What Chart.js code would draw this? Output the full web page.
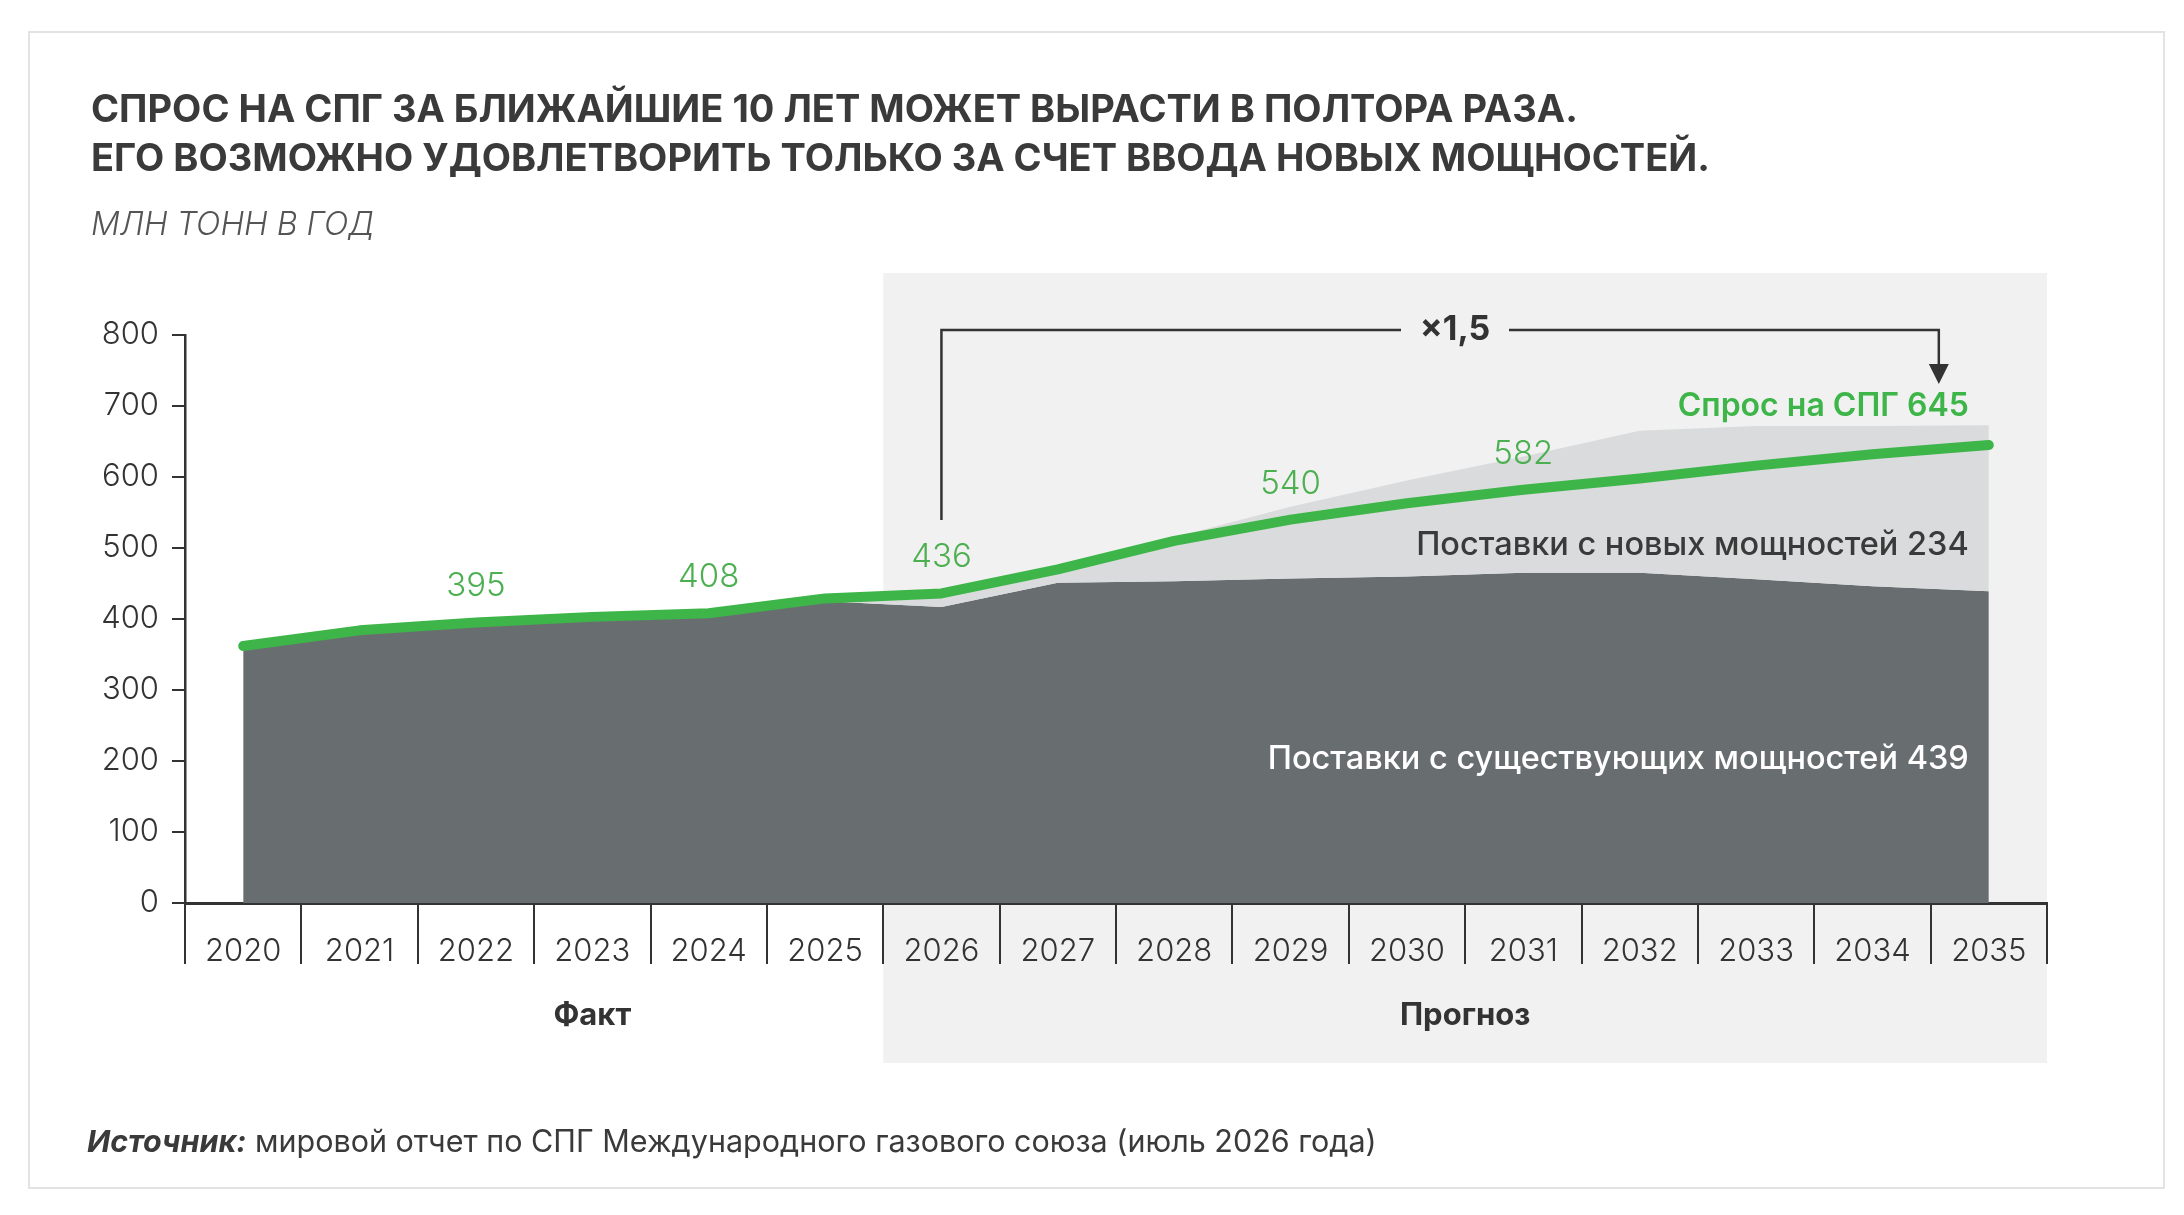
<!DOCTYPE html>
<html lang="ru">
<head>
<meta charset="utf-8">
<title>Спрос на СПГ</title>
<script src="https://cdn.jsdelivr.net/npm/chart.js@4.4.1/dist/chart.umd.min.js"></script>
<style>
  body { margin: 0; width: 2184px; height: 1215px; position: relative; background: #fff; overflow: hidden; font-family: Inter, "Noto Sans", sans-serif; color: #3a3a3a; }
  .frame { position: absolute; left: 28px; top: 31px; width: 2133px; height: 1154px; border: 2px solid #e3e3e3; }
  canvas { position: absolute; left: 0; top: 0; }
  .title { position: absolute; left: 91px; top: 84px; font-size: 38px; line-height: 49px; font-weight: 700; color: #3a3a3a; white-space: nowrap; }
  .subtitle { position: absolute; left: 91px; top: 208px; font-size: 32px; line-height: 32px; font-style: italic; font-weight: 300; color: #555; }
  .source { position: absolute; left: 87px; top: 1125px; font-size: 30.5px; line-height: 31px; color: #3a3a3a; white-space: nowrap; }
  .source b { font-style: italic; font-weight: 700; }
</style>
</head>
<body>
<div class="frame"></div>
<canvas id="lngChart" width="2184" height="1215"></canvas>
<div class="title">СПРОС НА СПГ ЗА БЛИЖАЙШИЕ 10 ЛЕТ МОЖЕТ ВЫРАСТИ В ПОЛТОРА РАЗА.<br>ЕГО ВОЗМОЖНО УДОВЛЕТВОРИТЬ ТОЛЬКО ЗА СЧЕТ ВВОДА НОВЫХ МОЩНОСТЕЙ.</div>
<div class="subtitle">МЛН ТОНН В ГОД</div>
<div class="source"><b>Источник:</b> мировой отчет по СПГ Международного газового союза (июль 2026 года)</div>
<script>
const years = ['2020', '2021', '2022', '2023', '2024', '2025', '2026', '2027', '2028', '2029', '2030', '2031', '2032', '2033', '2034', '2035'];
const demand = [362, 384, 395, 403, 408, 429, 436, 470, 510, 540, 563, 582, 598, 616, 632, 645];
const existingSupply = [360, 378, 390, 398, 403, 425, 417, 451, 453, 457, 460, 465, 465, 456, 446, 439];
const newSupply = [0, 0, 0, 0, 0, 0, 13, 15, 62, 101, 135, 164, 200, 216, 226, 234];
const labelledYears = ['2022', '2024', '2026', '2029', '2031'];
const firstForecastYear = '2026';
const growthLabel = '×1,5';

const GREEN = '#3db549';
const GREEN_TEXT = '#4caf50';
const DARK = '#686e70';
const LIGHT = '#d9dbdc';
const INK = '#333333';
const FONT = 'Inter, "Noto Sans", sans-serif';

const totalSupply = existingSupply.map((v, i) => v + newSupply[i]);
const last = years.length - 1;

const overlay = {
    id: 'overlay',
    beforeDraw(chart) {
        const { ctx, scales: { x } } = chart;
        const i0 = years.indexOf(firstForecastYear);
        const left = (x.getPixelForValue(i0 - 1) + x.getPixelForValue(i0)) / 2;
        ctx.save();
        ctx.fillStyle = '#f1f1f1';
        ctx.fillRect(left, 273, chart.chartArea.right - left, 790);
        ctx.restore();
    },
    afterDraw(chart) {
        const { ctx, chartArea, scales: { x, y } } = chart;
        ctx.save();

        // separators under the x axis
        ctx.strokeStyle = INK;
        ctx.lineWidth = 2;
        const step = x.getPixelForValue(1) - x.getPixelForValue(0);
        for (let i = 0; i <= years.length; i++) {
            const px = Math.round(x.getPixelForValue(0) - step / 2 + i * step);
            ctx.beginPath();
            ctx.moveTo(px, chartArea.bottom);
            ctx.lineTo(px, 964);
            ctx.stroke();
        }

        // value labels on the demand line
        ctx.fillStyle = GREEN_TEXT;
        ctx.font = '300 33px ' + FONT;
        ctx.textAlign = 'center';
        ctx.textBaseline = 'middle';
        labelledYears.forEach(yr => {
            const i = years.indexOf(yr);
            ctx.fillText(String(demand[i]), x.getPixelForValue(i), y.getPixelForValue(demand[i]) - 36);
        });

        // series labels
        const rx = x.getPixelForValue(last) - 20;
        ctx.textAlign = 'right';
        ctx.font = '600 32px ' + FONT;
        ctx.fillStyle = GREEN;
        ctx.fillText('Спрос на СПГ ' + demand[last], rx, 406);
        ctx.font = '500 32.5px ' + FONT;
        ctx.fillStyle = '#3a3a3a';
        ctx.fillText('Поставки с новых мощностей ' + newSupply[last], rx, 545);
        ctx.fillStyle = '#ffffff';
        ctx.fillText('Поставки с существующих мощностей ' + existingSupply[last], rx, 759);

        // growth bracket
        const bx0 = x.getPixelForValue(years.indexOf(firstForecastYear));
        const bx1 = x.getPixelForValue(last) - 50;
        const by = 330;
        const tx = 1455;
        ctx.strokeStyle = INK;
        ctx.lineWidth = 2.5;
        ctx.beginPath();
        ctx.moveTo(bx0, 520);
        ctx.lineTo(bx0, by);
        ctx.lineTo(tx - 54, by);
        ctx.moveTo(tx + 54, by);
        ctx.lineTo(bx1, by);
        ctx.lineTo(bx1, 368);
        ctx.stroke();
        ctx.fillStyle = INK;
        ctx.beginPath();
        ctx.moveTo(bx1 - 10, 364);
        ctx.lineTo(bx1 + 10, 364);
        ctx.lineTo(bx1, 384);
        ctx.closePath();
        ctx.fill();
        ctx.textAlign = 'center';
        ctx.font = '700 34px ' + FONT;
        ctx.fillText(growthLabel, tx, by);

        // period captions
        ctx.font = '700 31px ' + FONT;
        ctx.fillStyle = INK;
        ctx.fillText('Факт', x.getPixelForValue(3), 1016);
        const i0 = years.indexOf(firstForecastYear);
        const pLeft = (x.getPixelForValue(i0 - 1) + x.getPixelForValue(i0)) / 2;
        ctx.fillText('Прогноз', (pLeft + chartArea.right) / 2, 1016);

        ctx.restore();
    }
};

new Chart(document.getElementById('lngChart'), {
    type: 'line',
    data: {
        labels: years,
        datasets: [
            {
                label: 'Поставки с существующих мощностей',
                data: existingSupply,
                fill: 'origin',
                backgroundColor: DARK,
                borderWidth: 0,
                pointRadius: 0,
                order: 2
            },
            {
                label: 'Поставки с новых мощностей',
                data: totalSupply,
                fill: '-1',
                backgroundColor: LIGHT,
                borderWidth: 0,
                pointRadius: 0,
                order: 1
            },
            {
                label: 'Спрос на СПГ',
                data: demand,
                fill: false,
                borderColor: GREEN,
                borderWidth: 10,
                borderCapStyle: 'round',
                borderJoinStyle: 'round',
                pointRadius: 0,
                tension: 0,
                order: 0
            }
        ]
    },
    options: {
        responsive: false,
        animation: false,
        devicePixelRatio: 1,
        layout: { padding: { top: 335, right: 137, left: 0, bottom: 0 } },
        plugins: { legend: { display: false }, tooltip: { enabled: false } },
        scales: {
            x: {
                offset: true,
                grid: { display: false },
                border: { display: true, color: INK, width: 3 },
                ticks: { color: INK, font: { family: FONT, size: 31, weight: '300' }, padding: 22, maxRotation: 0, autoSkip: false },
                afterFit(scale) { scale.height = 312; }
            },
            y: {
                min: 0,
                max: 800,
                ticks: { stepSize: 100, color: INK, font: { family: FONT, size: 31, weight: '300' }, padding: 13 },
                grid: { drawOnChartArea: false, drawTicks: true, tickLength: 13, color: INK, lineWidth: 2 },
                border: { display: true, color: INK, width: 2.5 },
                afterFit(scale) { scale.width = 185; }
            }
        }
    },
    plugins: [overlay]
});
</script>
</body>
</html>
